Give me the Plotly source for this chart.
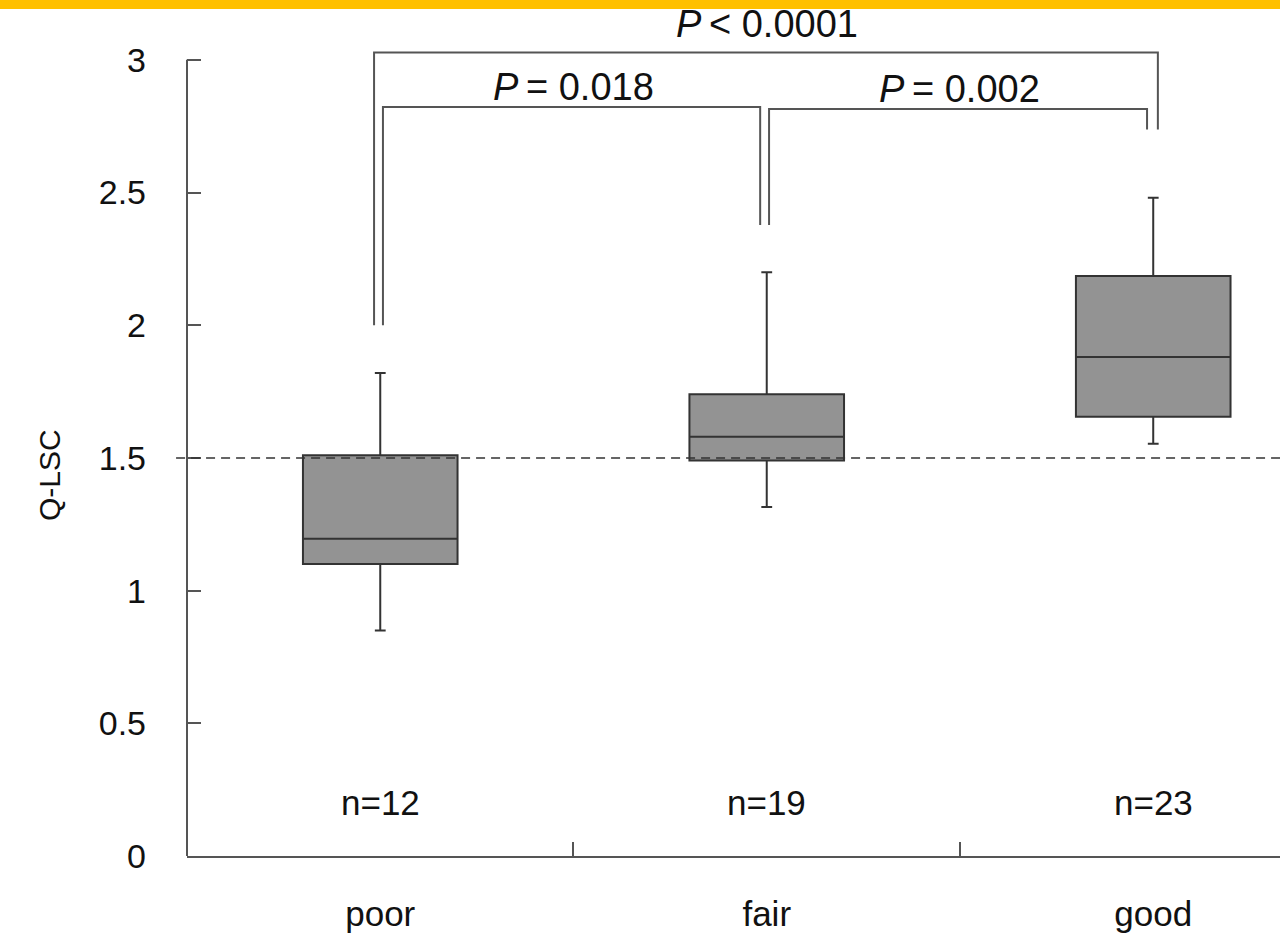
import plotly.graph_objects as go

# ---- data ----
categories = ["poor", "fair", "good"]
n_labels = ["n=12", "n=19", "n=23"]
q1 = [1.10, 1.49, 1.655]
median = [1.195, 1.58, 1.88]
q3 = [1.51, 1.74, 2.185]
lower_whisker = [0.85, 1.315, 1.553]
upper_whisker = [1.82, 2.20, 2.48]
threshold = 1.5
y_tick_vals = [0, 0.5, 1, 1.5, 2, 2.5, 3]
y_tick_text = ["0", "0.5", "1", "1.5", "2", "2.5", "3"]

# comparisons: (group a, group b), p label, bracket top, left/right leg bottoms
comp_pairs = [("poor", "fair"), ("fair", "good"), ("poor", "good")]
comp_labels = ["<i>P</i>\u2009= 0.018", "<i>P</i>\u2009= 0.002", "<i>P</i>\u2009< 0.0001"]
comp_top = [2.822, 2.815, 3.028]
comp_left_bottom = [2.0, 2.378, 2.0]
comp_right_bottom = [2.378, 2.737, 2.737]

# ---- style ----
FONT = "Liberation Sans, Arial, Helvetica, sans-serif"
LINE = "#555555"
BOXLINE = "#333333"
leg_offsets = [(0.007, -0.017), (0.006, -0.016), (-0.016, 0.012)]
text_shift = [20, 20, 28]

fig = go.Figure()
fig.add_trace(go.Box(
    x=categories,
    q1=q1, median=median, q3=q3,
    lowerfence=lower_whisker, upperfence=upper_whisker,
    fillcolor="#939393",
    line=dict(color=BOXLINE, width=2),
    width=0.4,
    whiskerwidth=0.07,
    boxpoints=False,
    showlegend=False,
    hoverinfo="skip",
))

shapes = []
# yellow band at the top of the page
shapes.append(dict(type="rect", xref="paper", yref="paper",
                   x0=-187 / 1093, x1=1.0, y0=1 + 11 / 836, y1=1 + 21 / 836,
                   fillcolor="#FFC000", line=dict(width=0), layer="above"))
# y axis line (ends at top tick)
shapes.append(dict(type="line", xref="paper", yref="y",
                   x0=0, x1=0, y0=y_tick_vals[0], y1=y_tick_vals[-1],
                   line=dict(color=LINE, width=2)))
# threshold dashed line
shapes.append(dict(type="line", xref="paper", yref="y",
                   x0=-0.01, x1=1.0, y0=threshold, y1=threshold,
                   line=dict(color="#333333", width=1.5, dash="9px,6px")))
# comparison brackets
annotations = []
for (a, b), lab, top, lb, rb, (lo, ro), ts in zip(comp_pairs, comp_labels, comp_top,
                                                 comp_left_bottom, comp_right_bottom,
                                                 leg_offsets, text_shift):
    xa = categories.index(a) + lo
    xb = categories.index(b) + ro
    shapes.append(dict(type="path", xref="x", yref="y",
                       path=f"M {xa},{lb} L {xa},{top} L {xb},{top} L {xb},{rb}",
                       line=dict(color=LINE, width=2)))
    annotations.append(dict(x=(categories.index(a) + categories.index(b)) / 2, y=top,
                            xref="x", yref="y", text=lab, showarrow=False,
                            xanchor="center", yanchor="middle", yshift=ts,
                            font=dict(family=FONT, size=38, color="#111111")))

for c, n in zip(categories, n_labels):
    annotations.append(dict(x=c, y=0.2, xref="x", yref="y", text=n, showarrow=False,
                            xanchor="center", yanchor="middle",
                            font=dict(family=FONT, size=35, color="#111111")))

annotations.append(dict(x=(50 - 187) / 1093, y=(856 - 475) / 836, xref="paper", yref="paper",
                        xanchor="center", yanchor="middle",
                        text="Q-LSC", textangle=-90, showarrow=False,
                        font=dict(family=FONT, size=30, color="#111111")))

fig.update_layout(
    width=1280, height=938,
    margin=dict(l=187, r=0, t=20, b=82),
    paper_bgcolor="white", plot_bgcolor="white",
    shapes=shapes, annotations=annotations,
    showlegend=False,
    xaxis=dict(type="category", categoryorder="array", categoryarray=categories,
               range=[-0.5, 2.328], tickson="boundaries", ticks="inside", ticklen=14,
               tickwidth=1.5, tickcolor=LINE,
               showline=True, linecolor=LINE, linewidth=2, showgrid=False, zeroline=False,
               ticklabelstandoff=26,
               tickfont=dict(family=FONT, size=35, color="#111111")),
    yaxis=dict(range=[0, 3.15], tickvals=y_tick_vals, ticktext=y_tick_text,
               ticks="inside", ticklen=14, tickwidth=2, tickcolor=LINE,
               showline=False, showgrid=False, zeroline=False,
               ticklabelstandoff=40,
               tickfont=dict(family=FONT, size=34, color="#111111")),
)

fig.write_html(
    "out.html",
    config={"displayModeBar": False},
    post_script="document.body.style.margin='0';document.body.style.overflow='hidden';",
)
